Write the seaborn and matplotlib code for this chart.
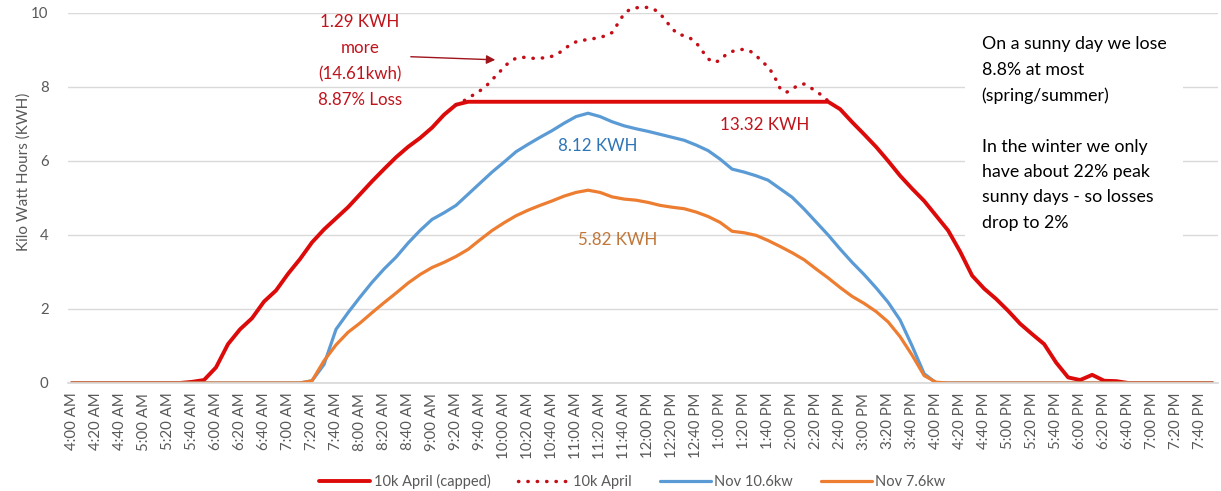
import matplotlib
matplotlib.use('Agg')
import matplotlib.pyplot as plt
import matplotlib.dates as mdates
import pandas as pd
import seaborn as sns

# 10 minute readings from 4:00 AM to 7:50 PM
times = pd.date_range('2021-04-15 04:00', periods=96, freq='10min')

april_capped = [
    0, 0, 0, 0, 0, 0, 0, 0, 0, 0,
    0.03, 0.08, 0.42, 1.05, 1.45, 1.75, 2.2, 2.5, 2.95, 3.35,
    3.8, 4.15, 4.45, 4.75, 5.1, 5.45, 5.78, 6.1, 6.38, 6.62,
    6.9, 7.25, 7.52, 7.6, 7.6, 7.6, 7.6, 7.6, 7.6, 7.6,
    7.6, 7.6, 7.6, 7.6, 7.6, 7.6, 7.6, 7.6, 7.6, 7.6,
    7.6, 7.6, 7.6, 7.6, 7.6, 7.6, 7.6, 7.6, 7.6, 7.6,
    7.6, 7.6, 7.6, 7.6, 7.4, 7.05, 6.72, 6.38, 6.0, 5.6,
    5.25, 4.92, 4.52, 4.12, 3.55, 2.9, 2.55, 2.27, 1.95, 1.6,
    1.32, 1.05, 0.55, 0.15, 0.08, 0.22, 0.06, 0.05, 0, 0,
    0, 0, 0, 0, 0, 0,
]

nov_106 = [
    0, 0, 0, 0, 0, 0, 0, 0, 0, 0,
    0, 0, 0, 0, 0, 0, 0, 0, 0, 0,
    0.06, 0.5, 1.45, 1.9, 2.32, 2.72, 3.08, 3.4, 3.78, 4.12,
    4.42, 4.6, 4.8, 5.1, 5.4, 5.7, 5.97, 6.25, 6.45, 6.64,
    6.82, 7.02, 7.2, 7.29, 7.2, 7.06, 6.95, 6.87, 6.8, 6.72,
    6.64, 6.56, 6.43, 6.28, 6.05, 5.78, 5.7, 5.6, 5.48, 5.25,
    5.02, 4.7, 4.35, 4.0, 3.62, 3.26, 2.93, 2.57, 2.18, 1.7,
    1.0, 0.25, 0, 0, 0, 0, 0, 0, 0, 0,
    0, 0, 0, 0, 0, 0, 0, 0, 0, 0,
    0, 0, 0, 0, 0, 0,
]

nov_76 = [
    0, 0, 0, 0, 0, 0, 0, 0, 0, 0,
    0, 0, 0, 0, 0, 0, 0, 0, 0, 0,
    0.06, 0.6, 1.03, 1.37, 1.62, 1.9, 2.17, 2.43, 2.7, 2.93,
    3.12, 3.26, 3.42, 3.61, 3.87, 4.12, 4.33, 4.52, 4.67, 4.8,
    4.92, 5.05, 5.15, 5.21, 5.15, 5.03, 4.97, 4.94, 4.88, 4.8,
    4.75, 4.71, 4.62, 4.5, 4.34, 4.1, 4.06, 3.99, 3.85, 3.69,
    3.52, 3.33, 3.08, 2.84, 2.58, 2.34, 2.15, 1.93, 1.65, 1.25,
    0.75, 0.2, 0.02, 0, 0, 0, 0, 0, 0, 0,
    0, 0, 0, 0, 0, 0, 0, 0, 0, 0,
    0, 0, 0, 0, 0, 0,
]

# uncapped April output, 5 minute readings where it rises above the cap
peak_times = pd.date_range('2021-04-15 09:20', periods=63, freq='5min')
april_uncapped = [
    7.52, 7.6, 7.69, 7.8, 7.9, 8.02, 8.2, 8.35, 8.55, 8.68,
    8.78, 8.8, 8.8, 8.77, 8.78, 8.79, 8.83, 8.9, 9.02, 9.14,
    9.22, 9.26, 9.28, 9.31, 9.35, 9.38, 9.47, 9.72, 9.98, 10.1,
    10.14, 10.15, 10.15, 10.1, 9.98, 9.78, 9.58, 9.42, 9.39, 9.32,
    9.2, 8.98, 8.76, 8.66, 8.72, 8.88, 8.96, 9.0, 9.02, 8.97,
    8.85, 8.68, 8.55, 8.3, 7.96, 7.85, 7.94, 8.05, 8.08, 7.99,
    7.88, 7.77, 7.62,
]

RED = '#DD0A0A'
DOT_RED = '#C40E18'
BLUE = '#5B9BD5'
ORANGE = '#ED7D31'
GRAY = '#595959'

sns.set_theme(style="white")
plt.rcParams['font.family'] = ['Lato', 'DejaVu Sans']

fig = plt.figure(figsize=(12.21, 4.91), dpi=100)
ax = fig.add_axes([0.0557, 0.22, 0.942, 0.7536])

sns.lineplot(x=times, y=april_capped, ax=ax, color=RED, lw=2.8, label='10k April (capped)')
sns.lineplot(x=peak_times, y=april_uncapped, ax=ax, color=DOT_RED, lw=2.5,
             linestyle=(0, (0.1, 2.6)), dash_capstyle='round', clip_on=False, label='10k April')
sns.lineplot(x=times, y=nov_106, ax=ax, color=BLUE, lw=2.3, label='Nov 10.6kw')
sns.lineplot(x=times, y=nov_76, ax=ax, color=ORANGE, lw=2.3, label='Nov 7.6kw')

start = times[0]
ax.set_xlim(start - pd.Timedelta(minutes=3.3), start + pd.Timedelta(minutes=955))
ax.set_ylim(0, 10)
ax.set_yticks([0, 2, 4, 6, 8, 10])
ax.xaxis.set_major_locator(mdates.MinuteLocator(byminute=[0, 20, 40]))
ax.xaxis.set_major_formatter(mdates.DateFormatter('%-I:%M %p'))

ax.yaxis.grid(True, color='#D9D9D9', lw=1)
ax.set_axisbelow(True)
for side in ['top', 'right', 'left']:
    ax.spines[side].set_visible(False)
ax.spines['bottom'].set_color('#D9D9D9')

ax.tick_params(axis='x', rotation=90, labelsize=10.8, colors=GRAY, length=0, pad=7)
ax.tick_params(axis='y', labelsize=10.8, colors=GRAY, length=0, pad=14)
ax.set_ylabel('Kilo Watt Hours (KWH)', fontsize=11, color=GRAY)
ax.yaxis.set_label_coords(-0.032, 0.57)
ax.set_xlabel('')

def minute(m):
    return start + pd.Timedelta(minutes=m)

# annotations
ax.text(minute(240), 8.7, '1.29 KWH\nmore\n(14.61kwh)\n8.87% Loss', color='#C0141C',
        fontsize=12.2, ha='center', va='center', linespacing=1.76)
ax.annotate('', xy=(minute(355), 8.73), xytext=(minute(280), 8.82),
            arrowprops=dict(arrowstyle='-|>', color='#A0141C', lw=1, mutation_scale=13))
ax.text(minute(577), 6.97, '13.32 KWH', color='#C0141C', fontsize=12.2, ha='center', va='center')
ax.text(minute(438), 6.4, '8.12 KWH', color='#2E75B6', fontsize=12.2, ha='center', va='center')
ax.text(minute(455), 3.86, '5.82 KWH', color='#C0773A', fontsize=12.2, ha='center', va='center')

ax.text(minute(758), 6.74,
        'On a sunny day we lose\n8.8% at most\n(spring/summer)\n\n'
        'In the winter we only\nhave about 22% peak\nsunny days - so losses\ndrop to 2%',
        color='black', fontsize=12.8, ha='left', va='center', linespacing=1.72,
        bbox=dict(facecolor='white', edgecolor='none', pad=12))

handles, labels = ax.get_legend_handles_labels()
ax.get_legend().remove()
leg = fig.legend(handles, labels, loc='center', bbox_to_anchor=(0.518, 0.02), ncol=4,
                 frameon=False, fontsize=10.5, handlelength=3.5, handletextpad=0.25,
                 columnspacing=1.9)
for t in leg.get_texts():
    t.set_color(GRAY)

fig.savefig('out.png', dpi=100)
